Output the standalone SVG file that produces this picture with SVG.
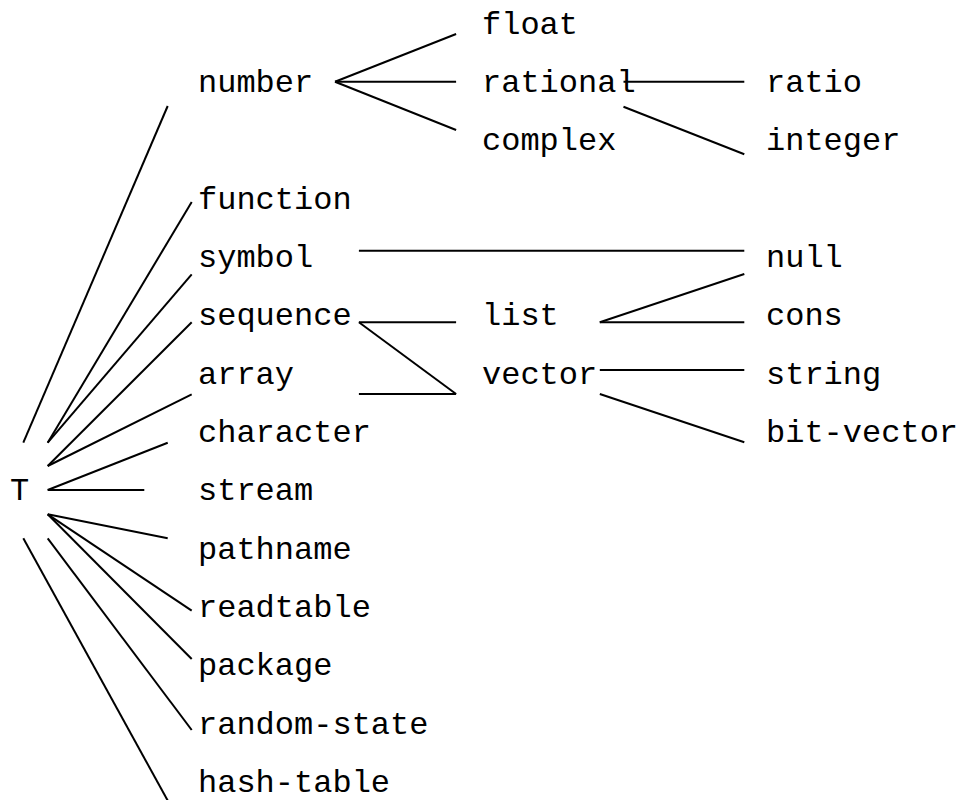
<svg xmlns="http://www.w3.org/2000/svg" width="957" height="800" viewBox="0 0 957 800">
  <style>
    text { font-family: "Liberation Mono", "Courier New", monospace; font-size: 32px; fill: #000; }
    .edge { stroke: #000; stroke-width: 2; fill: none; stroke-linecap: butt; }
  </style>
  <rect width="957" height="800" fill="#fff"/>

  <!-- type tree: connectors -->
  <g id="connectors">
    <!-- from T -->
    <line class="edge" x1="23.3" y1="442.7" x2="167.7" y2="106"/>
    <line class="edge" x1="47.7" y1="442.7" x2="191.7" y2="202"/>
    <line class="edge" x1="47.7" y1="442.7" x2="191.7" y2="274.3"/>
    <line class="edge" x1="47.7" y1="466" x2="191.7" y2="322.3"/>
    <line class="edge" x1="47.7" y1="466" x2="191.7" y2="394.3"/>
    <line class="edge" x1="47.7" y1="490" x2="167.7" y2="442.7"/>
    <line class="edge" x1="47.7" y1="490" x2="144.3" y2="490"/>
    <line class="edge" x1="47.7" y1="514.3" x2="167.7" y2="538.3"/>
    <line class="edge" x1="47.7" y1="514.3" x2="191.7" y2="610.7"/>
    <line class="edge" x1="47.7" y1="514.3" x2="191.7" y2="659"/>
    <line class="edge" x1="47.7" y1="538.3" x2="191.7" y2="730"/>
    <line class="edge" x1="23.3" y1="538.3" x2="168.5" y2="802"/>
    <!-- number -->
    <line class="edge" x1="335" y1="81.7" x2="456.1" y2="34"/>
    <line class="edge" x1="335" y1="81.7" x2="456.1" y2="81.7"/>
    <line class="edge" x1="335" y1="81.7" x2="456.1" y2="130"/>
    <!-- rational -->
    <line class="edge" x1="623.5" y1="81.7" x2="744.3" y2="81.7"/>
    <line class="edge" x1="623.5" y1="106.7" x2="744.3" y2="154.3"/>
    <!-- symbol -->
    <line class="edge" x1="358.9" y1="250.7" x2="744.3" y2="250.7"/>
    <!-- sequence -->
    <line class="edge" x1="358.9" y1="322.3" x2="456.1" y2="322.3"/>
    <line class="edge" x1="358.9" y1="322.3" x2="456.1" y2="394"/>
    <!-- array -->
    <line class="edge" x1="358.9" y1="394" x2="456.1" y2="394"/>
    <!-- list -->
    <line class="edge" x1="599.8" y1="322.3" x2="744.3" y2="274"/>
    <line class="edge" x1="599.8" y1="322.3" x2="744.3" y2="322.3"/>
    <!-- vector -->
    <line class="edge" x1="599.8" y1="370" x2="744.3" y2="370"/>
    <line class="edge" x1="599.8" y1="394" x2="744.3" y2="442.3"/>
  </g>

  <!-- type nodes -->
  <g id="node-T"><text x="10" y="500.3">T</text></g>
  <g id="node-number"><text x="198" y="91.8">number</text></g>
  <g id="node-function"><text x="198" y="208.5">function</text></g>
  <g id="node-symbol"><text x="198" y="266.8">symbol</text></g>
  <g id="node-sequence"><text x="198" y="325.2">sequence</text></g>
  <g id="node-array"><text x="198" y="383.5">array</text></g>
  <g id="node-character"><text x="198" y="441.8">character</text></g>
  <g id="node-stream"><text x="198" y="500.2">stream</text></g>
  <g id="node-pathname"><text x="198" y="558.5">pathname</text></g>
  <g id="node-readtable"><text x="198" y="616.8">readtable</text></g>
  <g id="node-package"><text x="198" y="675.2">package</text></g>
  <g id="node-random-state"><text x="198" y="733.5">random-state</text></g>
  <g id="node-hash-table"><text x="198" y="791.8">hash-table</text></g>

  <g id="node-float"><text x="482" y="33.5">float</text></g>
  <g id="node-rational"><text x="482" y="91.8">rational</text></g>
  <g id="node-complex"><text x="482" y="150.2">complex</text></g>
  <g id="node-list"><text x="482" y="325.2">list</text></g>
  <g id="node-vector"><text x="482" y="383.5">vector</text></g>

  <g id="node-ratio"><text x="766" y="91.8">ratio</text></g>
  <g id="node-integer"><text x="766" y="150.2">integer</text></g>
  <g id="node-null"><text x="766" y="266.8">null</text></g>
  <g id="node-cons"><text x="766" y="325.2">cons</text></g>
  <g id="node-string"><text x="766" y="383.5">string</text></g>
  <g id="node-bit-vector"><text x="766" y="441.8">bit-vector</text></g>
</svg>
